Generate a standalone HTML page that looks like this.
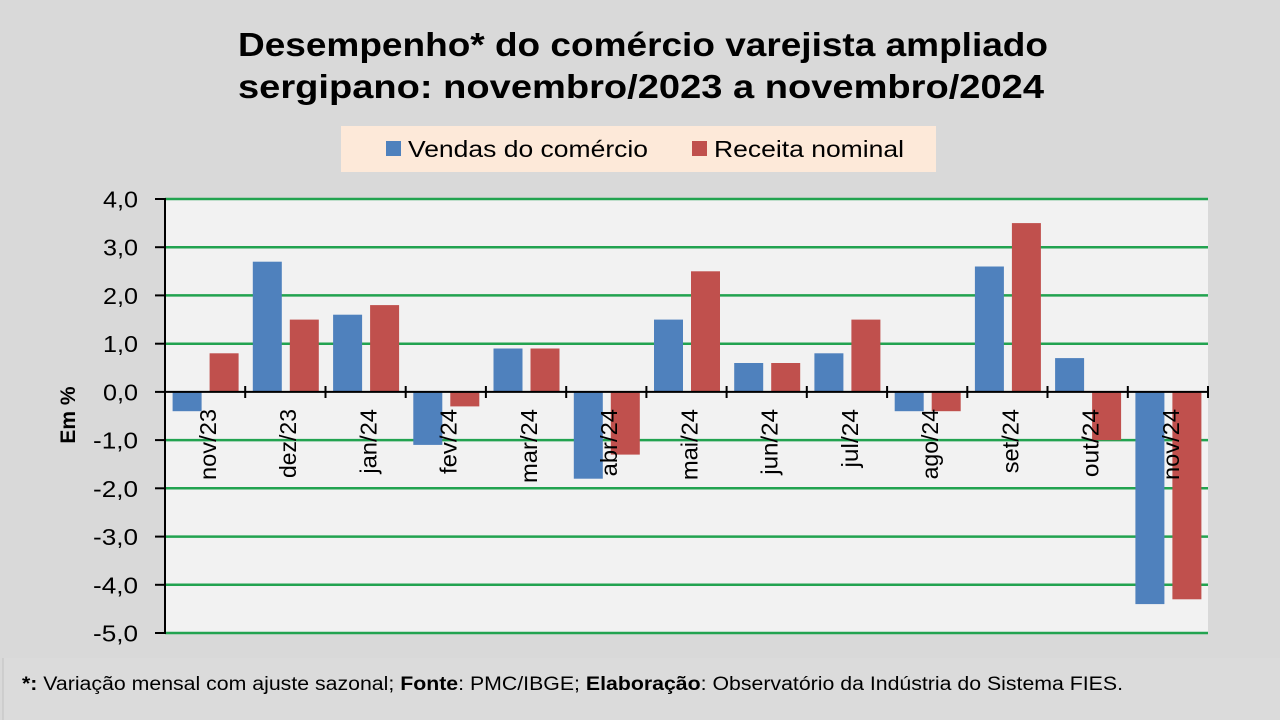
<!DOCTYPE html>
<html>
<head>
<meta charset="utf-8">
<style>
  html,body{margin:0;padding:0;background:#d9d9d9;}
  svg{display:block;}
  text{font-family:"Liberation Sans",sans-serif;fill:#000;}
</style>
</head>
<body>
<svg width="1280" height="720" viewBox="0 0 1280 720" xmlns="http://www.w3.org/2000/svg">
  <rect x="0" y="0" width="1280" height="720" fill="#d9d9d9"/>
  <!-- footer box -->
  <rect x="3" y="658" width="1277" height="62" fill="#dbdbdb"/>
  <line x1="3" y1="658" x2="3" y2="720" stroke="#c9c9c9" stroke-width="1.5"/>

  <!-- Title -->
  <text x="238" y="56" font-size="33" font-weight="bold" textLength="810" lengthAdjust="spacingAndGlyphs">Desempenho* do comércio varejista ampliado</text>
  <text x="238" y="98" font-size="33" font-weight="bold" textLength="806" lengthAdjust="spacingAndGlyphs">sergipano: novembro/2023 a novembro/2024</text>

  <!-- Legend -->
  <rect x="341" y="126" width="595" height="46" fill="#fde9d9"/>
  <rect x="386" y="141" width="15" height="15" fill="#4f81bd"/>
  <text x="408" y="157" font-size="23" textLength="240" lengthAdjust="spacingAndGlyphs">Vendas do comércio</text>
  <rect x="692" y="141" width="15" height="15" fill="#c0504d"/>
  <text x="714" y="157" font-size="23" textLength="190" lengthAdjust="spacingAndGlyphs">Receita nominal</text>

  <!-- Plot area -->
  <rect x="165" y="199" width="1043" height="434" fill="#f2f2f2"/>

  <!-- gridlines -->
  <g stroke="#22a350" stroke-width="2.5">
    <line x1="165" y1="199" x2="1208" y2="199"/>
    <line x1="165" y1="247.2" x2="1208" y2="247.2"/>
    <line x1="165" y1="295.4" x2="1208" y2="295.4"/>
    <line x1="165" y1="343.7" x2="1208" y2="343.7"/>
    <line x1="165" y1="440.1" x2="1208" y2="440.1"/>
    <line x1="165" y1="488.3" x2="1208" y2="488.3"/>
    <line x1="165" y1="536.6" x2="1208" y2="536.6"/>
    <line x1="165" y1="584.8" x2="1208" y2="584.8"/>
    <line x1="165" y1="633" x2="1208" y2="633"/>
  </g>

  <!-- Bars: blue -->
  <g fill="#4f81bd">
    <rect x="172.6" y="391.9" width="29" height="19.3"/>
    <rect x="252.8" y="261.7" width="29" height="130.2"/>
    <rect x="333.1" y="314.7" width="29" height="77.2"/>
    <rect x="413.3" y="391.9" width="29" height="53.0"/>
    <rect x="493.5" y="348.5" width="29" height="43.4"/>
    <rect x="573.8" y="391.9" width="29" height="86.8"/>
    <rect x="654.0" y="319.6" width="29" height="72.3"/>
    <rect x="734.2" y="363.0" width="29" height="28.9"/>
    <rect x="814.4" y="353.3" width="29" height="38.6"/>
    <rect x="894.7" y="391.9" width="29" height="19.3"/>
    <rect x="974.9" y="266.5" width="29" height="125.4"/>
    <rect x="1055.1" y="358.1" width="29" height="33.8"/>
    <rect x="1135.4" y="391.9" width="29" height="212.2"/>
  </g>
  <!-- Bars: red -->
  <g fill="#c0504d">
    <rect x="209.6" y="353.3" width="29" height="38.6"/>
    <rect x="289.8" y="319.6" width="29" height="72.3"/>
    <rect x="370.1" y="305.1" width="29" height="86.8"/>
    <rect x="450.3" y="391.9" width="29" height="14.5"/>
    <rect x="530.5" y="348.5" width="29" height="43.4"/>
    <rect x="610.8" y="391.9" width="29" height="62.7"/>
    <rect x="691.0" y="271.3" width="29" height="120.6"/>
    <rect x="771.2" y="363.0" width="29" height="28.9"/>
    <rect x="851.4" y="319.6" width="29" height="72.3"/>
    <rect x="931.7" y="391.9" width="29" height="19.3"/>
    <rect x="1011.9" y="223.1" width="29" height="168.8"/>
    <rect x="1092.1" y="391.9" width="29" height="48.2"/>
    <rect x="1172.4" y="391.9" width="29" height="207.4"/>
  </g>

  <!-- Axes -->
  <line x1="165" y1="198" x2="165" y2="634" stroke="#000" stroke-width="2"/>
  <line x1="164" y1="391.9" x2="1208" y2="391.9" stroke="#000" stroke-width="2"/>
  <!-- y ticks -->
  <g stroke="#000" stroke-width="2">
    <line x1="155" y1="199" x2="165" y2="199"/>
    <line x1="155" y1="247.2" x2="165" y2="247.2"/>
    <line x1="155" y1="295.4" x2="165" y2="295.4"/>
    <line x1="155" y1="343.7" x2="165" y2="343.7"/>
    <line x1="155" y1="391.9" x2="165" y2="391.9"/>
    <line x1="155" y1="440.1" x2="165" y2="440.1"/>
    <line x1="155" y1="488.3" x2="165" y2="488.3"/>
    <line x1="155" y1="536.6" x2="165" y2="536.6"/>
    <line x1="155" y1="584.8" x2="165" y2="584.8"/>
    <line x1="155" y1="633" x2="165" y2="633"/>
  </g>
  <!-- category ticks -->
  <g stroke="#000" stroke-width="2">
    <line x1="245.2" y1="386" x2="245.2" y2="398"/>
    <line x1="325.5" y1="386" x2="325.5" y2="398"/>
    <line x1="405.7" y1="386" x2="405.7" y2="398"/>
    <line x1="485.9" y1="386" x2="485.9" y2="398"/>
    <line x1="566.2" y1="386" x2="566.2" y2="398"/>
    <line x1="646.4" y1="386" x2="646.4" y2="398"/>
    <line x1="726.6" y1="386" x2="726.6" y2="398"/>
    <line x1="806.8" y1="386" x2="806.8" y2="398"/>
    <line x1="887.1" y1="386" x2="887.1" y2="398"/>
    <line x1="967.3" y1="386" x2="967.3" y2="398"/>
    <line x1="1047.5" y1="386" x2="1047.5" y2="398"/>
    <line x1="1127.8" y1="386" x2="1127.8" y2="398"/>
    <line x1="1208" y1="386" x2="1208" y2="398"/>
  </g>

  <!-- y tick labels -->
  <g font-size="23" text-anchor="end">
    <text x="138" y="207.5" textLength="35" lengthAdjust="spacingAndGlyphs">4,0</text>
    <text x="138" y="255.7" textLength="35" lengthAdjust="spacingAndGlyphs">3,0</text>
    <text x="138" y="303.9" textLength="35" lengthAdjust="spacingAndGlyphs">2,0</text>
    <text x="138" y="352.2" textLength="35" lengthAdjust="spacingAndGlyphs">1,0</text>
    <text x="138" y="400.4" textLength="35" lengthAdjust="spacingAndGlyphs">0,0</text>
    <text x="138" y="448.6" textLength="45" lengthAdjust="spacingAndGlyphs">-1,0</text>
    <text x="138" y="496.8" textLength="45" lengthAdjust="spacingAndGlyphs">-2,0</text>
    <text x="138" y="545.1" textLength="45" lengthAdjust="spacingAndGlyphs">-3,0</text>
    <text x="138" y="593.3" textLength="45" lengthAdjust="spacingAndGlyphs">-4,0</text>
    <text x="138" y="641.5" textLength="45" lengthAdjust="spacingAndGlyphs">-5,0</text>
  </g>

  <!-- y axis title -->
  <text transform="translate(75,415) rotate(-90)" font-size="21" font-weight="bold" text-anchor="middle">Em %</text>

  <!-- category labels -->
  <g font-size="23.5">
    <text transform="translate(216,409) rotate(-90)" text-anchor="end" textLength="71" lengthAdjust="spacingAndGlyphs">nov/23</text>
    <text transform="translate(296.2,409) rotate(-90)" text-anchor="end" textLength="69" lengthAdjust="spacingAndGlyphs">dez/23</text>
    <text transform="translate(376.5,409) rotate(-90)" text-anchor="end" textLength="64.7" lengthAdjust="spacingAndGlyphs">jan/24</text>
    <text transform="translate(456.7,409) rotate(-90)" text-anchor="end" textLength="65" lengthAdjust="spacingAndGlyphs">fev/24</text>
    <text transform="translate(536.9,409) rotate(-90)" text-anchor="end" textLength="74" lengthAdjust="spacingAndGlyphs">mar/24</text>
    <text transform="translate(617.2,409) rotate(-90)" text-anchor="end" textLength="67.4" lengthAdjust="spacingAndGlyphs">abr/24</text>
    <text transform="translate(697.4,409) rotate(-90)" text-anchor="end" textLength="71.2" lengthAdjust="spacingAndGlyphs">mai/24</text>
    <text transform="translate(777.6,409) rotate(-90)" text-anchor="end" textLength="65.8" lengthAdjust="spacingAndGlyphs">jun/24</text>
    <text transform="translate(857.8,409) rotate(-90)" text-anchor="end" textLength="58.5" lengthAdjust="spacingAndGlyphs">jul/24</text>
    <text transform="translate(938.1,409) rotate(-90)" text-anchor="end" textLength="70.4" lengthAdjust="spacingAndGlyphs">ago/24</text>
    <text transform="translate(1018.3,409) rotate(-90)" text-anchor="end" textLength="64.3" lengthAdjust="spacingAndGlyphs">set/24</text>
    <text transform="translate(1098.5,409) rotate(-90)" text-anchor="end" textLength="68.2" lengthAdjust="spacingAndGlyphs">out/24</text>
    <text transform="translate(1178.8,409) rotate(-90)" text-anchor="end" textLength="71" lengthAdjust="spacingAndGlyphs">nov/24</text>
  </g>

  <!-- footer -->
  <text x="22" y="690" font-size="19" textLength="1101" lengthAdjust="spacingAndGlyphs"><tspan font-weight="bold">*:</tspan> Variação mensal com ajuste sazonal; <tspan font-weight="bold">Fonte</tspan>: PMC/IBGE; <tspan font-weight="bold">Elaboração</tspan>: Observatório da Indústria do Sistema FIES.</text>
</svg>
</body>
</html>
